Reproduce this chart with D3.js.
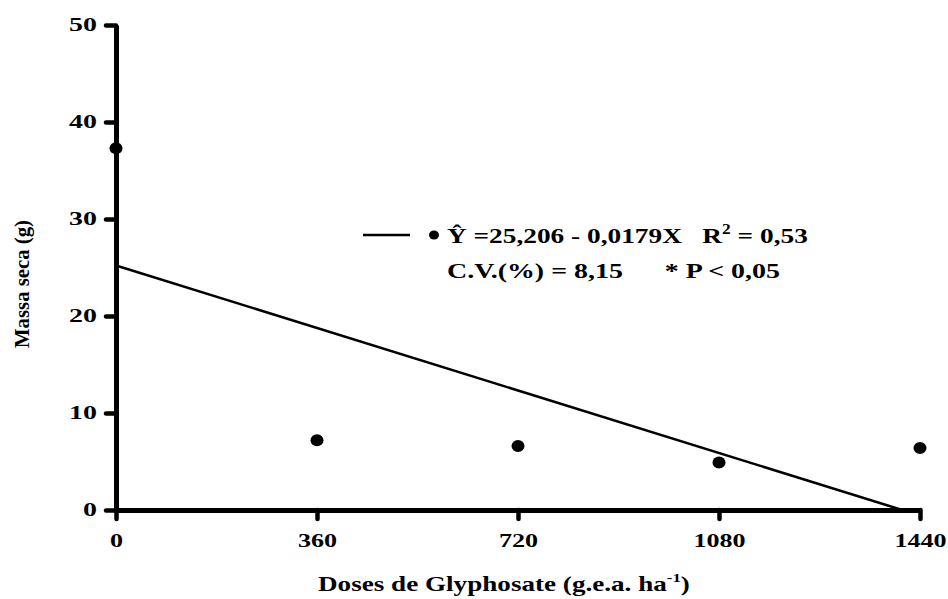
<!DOCTYPE html>
<html>
<head>
<meta charset="utf-8">
<script src="https://cdn.jsdelivr.net/npm/d3@7/dist/d3.min.js"></script>
<style>
  body { margin: 0; background: #fff; }
  text { font-family: "Liberation Serif", "Times New Roman", serif; font-weight: bold; fill: #000; }
</style>
</head>
<body>
<div id="chart"></div>
<script>
// data
const doses = [0, 360, 720, 1080, 1440];
const massa = [37.3, 7.2, 6.6, 4.9, 6.4];
const yTicks = [0, 10, 20, 30, 40, 50];
const xTicks = [0, 360, 720, 1080, 1440];
// fitted model Y = a + bX
const coefA = 25.206, coefB = -0.0179;

const width = 948, height = 599;
const margin = {top: 25, right: 28, bottom: 89, left: 116};

const x = d3.scaleLinear().domain([0, 1440]).range([margin.left, width - margin.right]);
const y = d3.scaleLinear().domain([0, 50]).range([height - margin.bottom, margin.top]);

const svg = d3.select("#chart").append("svg")
  .attr("width", width)
  .attr("height", height);

svg.append("rect").attr("width", "100%").attr("height", "100%").attr("fill", "white");

// put a text at (px, py) and squeeze/stretch it horizontally to a given width
function placeText(parent, px, py, size, target, rot) {
  const t = parent.append("text").attr("font-size", size);
  t.fit = function() {
    const w = this.node().getComputedTextLength();
    const k = target / w;
    this.attr("transform", "translate(" + px + "," + py + ")" + (rot ? " rotate(" + rot + ")" : "") + " scale(" + k + ",1)");
    return this;
  };
  return t;
}

// axes
const yAxis = svg.append("g")
  .attr("transform", "translate(" + x(0) + ",0)")
  .call(d3.axisLeft(y).tickValues(yTicks).tickSize(10).tickSizeOuter(0).tickPadding(9).tickFormat(d3.format("d")));

const xAxis = svg.append("g")
  .attr("transform", "translate(0," + y(0) + ")")
  .call(d3.axisBottom(x).tickValues(xTicks).tickSize(9).tickSizeOuter(0).tickPadding(15).tickFormat(d3.format("d")));

[yAxis, xAxis].forEach(g => {
  g.select(".domain").attr("stroke-width", 5).attr("stroke", "#000");
  g.selectAll(".tick line").attr("stroke-width", 4.5).attr("stroke", "#000").attr("stroke-linecap", "round");
  g.selectAll(".tick text").attr("font-size", 18).attr("font-family", null);
});
// widen tick labels like the original
const kY = 1.55, kX = 1.45;
yAxis.selectAll(".tick text")
  .attr("x", -19 / kY)
  .attr("transform", "scale(" + kY + ",1)");
xAxis.selectAll(".tick text")
  .attr("transform", "scale(" + kX + ",1)");

// regression line, from X = 0 to where the fit hits zero
const xZero = -coefA / coefB;
const lineData = [0, xZero].map(d => ({dose: d, fit: coefA + coefB * d}));
svg.append("path")
  .datum(lineData)
  .attr("fill", "none")
  .attr("stroke", "#000")
  .attr("stroke-width", 2.5)
  .attr("d", d3.line().x(d => x(d.dose)).y(d => y(d.fit)));

// observed points
svg.append("g")
  .selectAll("ellipse")
  .data(doses.map((d, i) => ({dose: d, massa: massa[i]})))
  .enter()
  .append("ellipse")
  .attr("cx", d => x(d.dose))
  .attr("cy", d => y(d.massa))
  .attr("rx", 6.5)
  .attr("ry", 6)
  .attr("fill", "#000");

// legend
const legend = svg.append("g");
legend.append("line")
  .attr("x1", 363).attr("x2", 410)
  .attr("y1", 235).attr("y2", 235)
  .attr("stroke", "#000").attr("stroke-width", 2.5);
legend.append("ellipse")
  .attr("cx", 434).attr("cy", 235)
  .attr("rx", 5).attr("ry", 4.5)
  .attr("fill", "#000");

const eq = placeText(legend, 447, 243, 22, 361);
eq.append("tspan").text("\u0176 =25,206 - 0,0179X\u00a0\u00a0\u00a0R");
eq.append("tspan").attr("font-size", 14).attr("dy", -9).text("2");
eq.append("tspan").attr("dy", 9).text(" = 0,53");
eq.fit();

const cv = placeText(legend, 447, 278, 22, 333);
cv.text("C.V.(%) = 8,15\u00a0\u00a0\u00a0\u00a0\u00a0\u00a0* P < 0,05");
cv.fit();

// axis titles
const xt = placeText(svg, 318, 591, 21, 372);
xt.append("tspan").text("Doses de Glyphosate (g.e.a. ha");
xt.append("tspan").attr("font-size", 13).attr("dy", -9).text("-1");
xt.append("tspan").attr("dy", 9).text(")");
xt.fit();

const yt = placeText(svg, 29, 284, 20, 128, -90);
yt.attr("text-anchor", "middle").text("Massa seca (g)");
yt.fit();
</script>
</body>
</html>
